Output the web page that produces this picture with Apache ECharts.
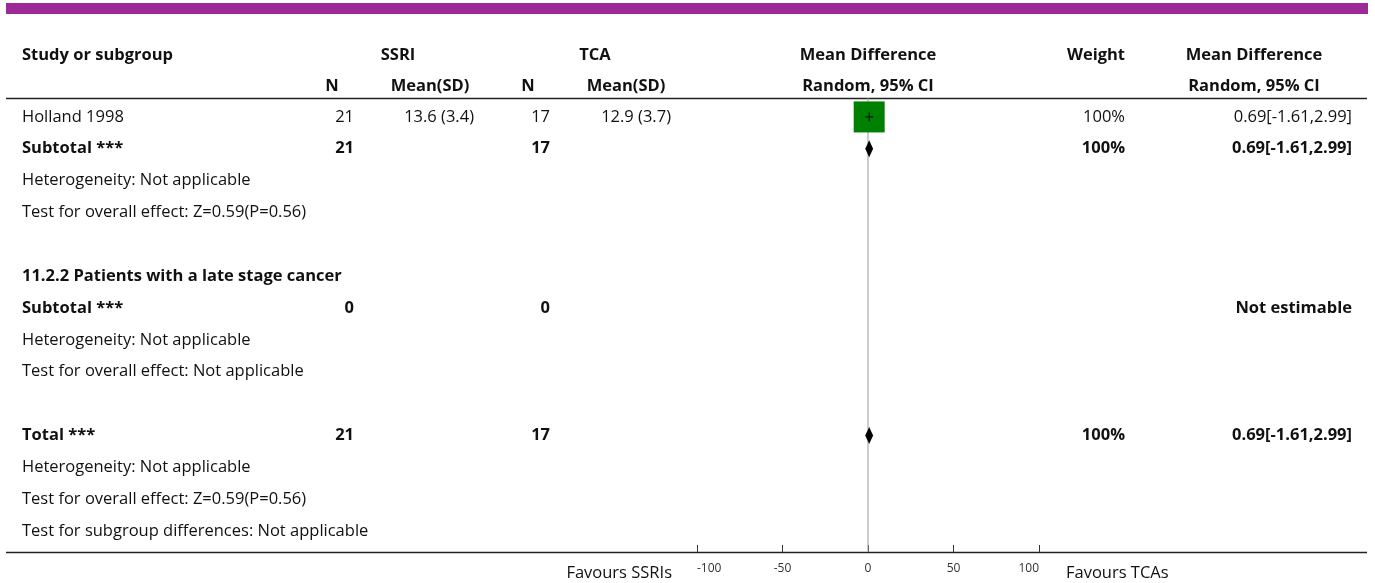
<!DOCTYPE html>
<html>
<head>
<meta charset="utf-8">
<script src="https://cdn.jsdelivr.net/npm/echarts@6/dist/echarts.min.js"></script>
<style>
  html, body { margin: 0; padding: 0; background: #fff; }
  #chart { width: 1375px; height: 583px; }
</style>
</head>
<body>
<div id="chart"></div>
<script>
// ---- Table rows (one entry per row of the forest plot) ----
const rowLabels = [
  'Holland 1998',
  'Subtotal ***',
  'Heterogeneity: Not applicable',
  'Test for overall effect: Z=0.59(P=0.56)',
  '',
  '11.2.2 Patients with a late stage cancer',
  'Subtotal ***',
  'Heterogeneity: Not applicable',
  'Test for overall effect: Not applicable',
  '',
  'Total ***',
  'Heterogeneity: Not applicable',
  'Test for overall effect: Z=0.59(P=0.56)',
  'Test for subgroup differences: Not applicable'
];
const boldRows = [1, 5, 6, 10];

const ssriN    = ['21', '21', '', '', '', '', '0', '', '', '', '21', '', '', ''];
const ssriMean = ['13.6 (3.4)', '', '', '', '', '', '', '', '', '', '', '', '', ''];
const tcaN     = ['17', '17', '', '', '', '', '0', '', '', '', '17', '', '', ''];
const tcaMean  = ['12.9 (3.7)', '', '', '', '', '', '', '', '', '', '', '', '', ''];

// Effect estimates: mean difference with 95% CI and weight (%)
const studyRows    = [0];
const studyMD      = [0.69];
const studyLo      = [-1.61];
const studyHi      = [2.99];
const studyWeight  = [100];

const pooledRows   = [1, 10];
const pooledMD     = [0.69, 0.69];
const pooledLo     = [-1.61, -1.61];
const pooledHi     = [2.99, 2.99];
const pooledWeight = [100, 100];

const notEstimableRows = [6];

// Axis
const xTicks = [-100, -50, 0, 50, 100];
const leftNote = 'Favours SSRIs';
const rightNote = 'Favours TCAs';

// ---- Layout ----
const FONT_FAMILY = '"Open Sans", "Noto Sans", sans-serif';
const FONT_SIZE = 16.5;
const TEXT_COLOR = '#111';
const ROW_MIN = -0.5;
const ROW_MAX = 13.66;

const chart = echarts.init(document.getElementById('chart'), null, { renderer: 'canvas' });

const studyData = studyRows.map((r, i) => [studyMD[i], r, studyLo[i], studyHi[i], studyWeight[i]]);
const pooledData = pooledRows.map((r, i) => [pooledMD[i], r, pooledLo[i], pooledHi[i], pooledWeight[i]]);

chart.setOption({
  animation: false,
  grid: { left: 697, right: 336, top: 101, bottom: 31, containLabel: false },
  xAxis: {
    type: 'value',
    position: 'bottom',
    min: xTicks[0],
    max: xTicks[xTicks.length - 1],
    interval: xTicks[1] - xTicks[0],
    axisLine: { show: false, onZero: false },
    axisTick: { show: true, inside: true, length: 7, lineStyle: { color: '#333', width: 1 } },
    axisLabel: {
      fontSize: 12, color: '#333', margin: 11, fontFamily: FONT_FAMILY,
      alignMinLabel: 'left', alignMaxLabel: 'right'
    },
    splitLine: { show: false }
  },
  yAxis: { type: 'value', inverse: true, min: ROW_MIN, max: ROW_MAX, show: false },
  series: [
    {
      // line of no effect
      type: 'custom',
      z: 1,
      silent: true,
      data: [[0]],
      renderItem(params, api) {
        const top = api.coord([api.value(0), ROW_MIN - 0.09]);
        const bottom = api.coord([api.value(0), ROW_MAX]);
        return {
          type: 'line',
          shape: { x1: top[0], y1: top[1], x2: bottom[0], y2: bottom[1] },
          style: { stroke: '#999', lineWidth: 1 }
        };
      }
    },
    {
      // individual studies: weighted square with CI whisker
      type: 'custom',
      z: 3,
      silent: true,
      data: studyData,
      renderItem(params, api) {
        const row = api.value(1);
        const c = api.coord([api.value(0), row]);
        const lo = api.coord([api.value(2), row]);
        const hi = api.coord([api.value(3), row]);
        const s = 31 * Math.sqrt(api.value(4) / 100);
        return {
          type: 'group',
          children: [
            { type: 'rect', shape: { x: c[0] - s / 2, y: c[1] - s / 2, width: s, height: s }, style: { fill: '#008000' } },
            { type: 'line', shape: { x1: lo[0], y1: c[1], x2: hi[0], y2: c[1] }, style: { stroke: '#000', lineWidth: 1 } },
            { type: 'line', shape: { x1: c[0], y1: c[1] - 4.5, x2: c[0], y2: c[1] + 4.5 }, style: { stroke: '#000', lineWidth: 1 } }
          ]
        };
      }
    },
    {
      // pooled estimates: diamonds
      type: 'custom',
      z: 3,
      silent: true,
      data: pooledData,
      renderItem(params, api) {
        const row = api.value(1);
        const c = api.coord([api.value(0), row]);
        const lo = api.coord([api.value(2), row]);
        const hi = api.coord([api.value(3), row]);
        const h = 8.5;
        return {
          type: 'polygon',
          shape: { points: [[lo[0], c[1]], [c[0], c[1] - h], [hi[0], c[1]], [c[0], c[1] + h]] },
          style: { fill: '#000' }
        };
      }
    }
  ]
});

// ---- Table text, placed on the same row scale as the plot ----
const rowY = i => chart.convertToPixel({ gridIndex: 0 }, [0, i])[1];
const fmt = v => v.toFixed(2);

function txt(text, x, y, align, bold, size) {
  return {
    type: 'text',
    silent: true,
    x: x, y: y,
    style: {
      text: text,
      fill: TEXT_COLOR,
      font: (bold ? 'bold ' : '') + (size || FONT_SIZE) + 'px ' + FONT_FAMILY,
      textAlign: align,
      textVerticalAlign: 'middle'
    }
  };
}

const weightText = new Array(rowLabels.length).fill('');
const effectText = new Array(rowLabels.length).fill('');
studyRows.forEach((r, i) => {
  weightText[r] = studyWeight[i] + '%';
  effectText[r] = fmt(studyMD[i]) + '[' + fmt(studyLo[i]) + ',' + fmt(studyHi[i]) + ']';
});
pooledRows.forEach((r, i) => {
  weightText[r] = pooledWeight[i] + '%';
  effectText[r] = fmt(pooledMD[i]) + '[' + fmt(pooledLo[i]) + ',' + fmt(pooledHi[i]) + ']';
});
notEstimableRows.forEach(r => { effectText[r] = 'Not estimable'; });

const elements = [];

// top band and rules
elements.push({ type: 'rect', silent: true, shape: { x: 6, y: 3, width: 1362, height: 11 }, style: { fill: '#9B2A96' } });
elements.push({ type: 'line', silent: true, shape: { x1: 6, y1: 98.5, x2: 1367, y2: 98.5 }, style: { stroke: '#222', lineWidth: 1.5 } });
elements.push({ type: 'line', silent: true, shape: { x1: 6, y1: 552.5, x2: 1367, y2: 552.5 }, style: { stroke: '#222', lineWidth: 1.5 } });

// column headers
elements.push(txt('Study or subgroup', 22, 55, 'left', true));
elements.push(txt('SSRI', 398, 55, 'center', true));
elements.push(txt('TCA', 595, 55, 'center', true));
elements.push(txt('Mean Difference', 868, 55, 'center', true));
elements.push(txt('Weight', 1096, 55, 'center', true));
elements.push(txt('Mean Difference', 1254, 55, 'center', true));
elements.push(txt('N', 332, 86, 'center', true));
elements.push(txt('Mean(SD)', 430, 86, 'center', true));
elements.push(txt('N', 528, 86, 'center', true));
elements.push(txt('Mean(SD)', 626, 86, 'center', true));
elements.push(txt('Random, 95% CI', 868, 86, 'center', true));
elements.push(txt('Random, 95% CI', 1254, 86, 'center', true));

// body rows
rowLabels.forEach((label, i) => {
  const y = rowY(i);
  const b = boldRows.indexOf(i) >= 0;
  if (label) elements.push(txt(label, 22, y, 'left', b));
  if (ssriN[i]) elements.push(txt(ssriN[i], 354, y, 'right', b));
  if (ssriMean[i]) elements.push(txt(ssriMean[i], 474, y, 'right', b));
  if (tcaN[i]) elements.push(txt(tcaN[i], 550, y, 'right', b));
  if (tcaMean[i]) elements.push(txt(tcaMean[i], 671, y, 'right', b));
  if (weightText[i]) elements.push(txt(weightText[i], 1125, y, 'right', b));
  if (effectText[i]) elements.push(txt(effectText[i], 1352, y, 'right', b));
});

// favours notes beside the axis
const axisY = 573;
elements.push(txt(leftNote, 672, axisY, 'right', false));
elements.push(txt(rightNote, 1066, axisY, 'left', false));

chart.setOption({ graphic: { elements: elements } });
</script>
</body>
</html>
